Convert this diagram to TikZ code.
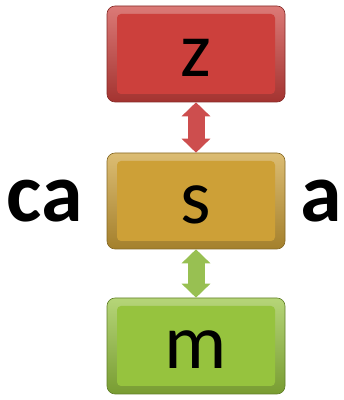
\documentclass[tikz,border=0pt]{standalone}
\usepackage{fontspec}
\setmainfont{Carlito}
\usetikzlibrary{arrows.meta}
\definecolor{boxred}{RGB}{204,64,60}
\definecolor{boxgold}{RGB}{205,160,55}
\definecolor{boxgreen}{RGB}{150,195,62}
\definecolor{arrred}{RGB}{205,78,78}
\definecolor{arrgreen}{RGB}{152,192,82}
\tikzset{
  box/.style={rounded corners=8pt, minimum width=178pt, minimum height=96pt,
    font=\fontsize{78}{90}\selectfont, text height=46pt, text depth=0pt, inner sep=0pt,
    draw=#1!65!black, line width=0.6pt, top color=#1!70!white, bottom color=#1!80!black,
    path picture={\fill[#1, rounded corners=4pt]
      ([shift={(10pt,8pt)}]path picture bounding box.south west) rectangle
      ([shift={(-10pt,-8pt)}]path picture bounding box.north east);}},
  dblarrow/.style={line width=17pt, draw=#1,
    {Triangle[width=28pt,length=14pt]}-{Triangle[width=28pt,length=14pt]}},
  biglabel/.style={font=\fontsize{84}{90}\selectfont\bfseries, anchor=base, inner sep=0pt}
}
\begin{document}
\begin{tikzpicture}[x=1pt,y=1pt]
\useasboundingbox (0,0) rectangle (344,400);
\node[box=boxred] (z) at (196,346) {z};
\node[box=boxgold] (s) at (196,199) {s};
\node[box=boxgreen] (m) at (196,54) {m};
\draw[dblarrow=arrred] (z.south) -- (s.north);
\draw[dblarrow=arrgreen] (s.south) -- (m.north);
\node[biglabel] (ca) at (45,178) {ca};
\node[biglabel] (a) at (321,178) {a};
\end{tikzpicture}
\end{document}
